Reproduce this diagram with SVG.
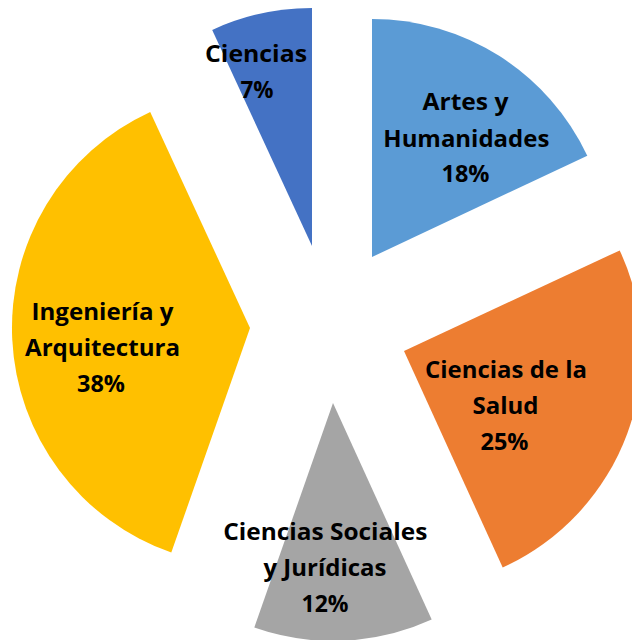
<svg xmlns="http://www.w3.org/2000/svg" width="632" height="640" viewBox="0 0 632 640">
<style>
  .lbl { font-family: "Open Sans", "Liberation Sans", sans-serif; font-weight: 700; font-size: 23px; fill: #000; text-anchor: middle; }
</style>
<rect width="632" height="640" fill="#ffffff"/>
<g id="artes">
  <path d="M372,257 L372,19 A238,238 0 0 1 587.3,155.7 Z" fill="#5B9BD5"/>
  <text class="lbl" x="465.5" y="110" textLength="86" lengthAdjust="spacingAndGlyphs">Artes y</text>
  <text class="lbl" x="466.3" y="146.5" textLength="166" lengthAdjust="spacingAndGlyphs">Humanidades</text>
  <text class="lbl" x="465.5" y="182" textLength="48" lengthAdjust="spacingAndGlyphs">18%</text>
</g>
<g id="salud">
  <path d="M404,351 L619.7,250.4 A238,238 0 0 1 502.7,567.6 Z" fill="#ED7D31"/>
  <text class="lbl" x="506" y="377.5" textLength="162" lengthAdjust="spacingAndGlyphs">Ciencias de la</text>
  <text class="lbl" x="505.5" y="414" textLength="66" lengthAdjust="spacingAndGlyphs">Salud</text>
  <text class="lbl" x="504.5" y="450" textLength="48" lengthAdjust="spacingAndGlyphs">25%</text>
</g>
<g id="sociales">
  <path d="M333,403 L431.7,619.6 A238,238 0 0 1 254.3,627.6 Z" fill="#A5A5A5"/>
  <text class="lbl" x="325.3" y="540" textLength="204" lengthAdjust="spacingAndGlyphs">Ciencias Sociales</text>
  <text class="lbl" x="325" y="575.5" textLength="123" lengthAdjust="spacingAndGlyphs">y Jurídicas</text>
  <text class="lbl" x="325" y="611.5" textLength="47" lengthAdjust="spacingAndGlyphs">12%</text>
</g>
<g id="ingenieria">
  <path d="M250,328 L171.3,552.6 A238,238 0 0 1 150.2,111.9 Z" fill="#FFC000"/>
  <text class="lbl" x="102.5" y="320" textLength="142" lengthAdjust="spacingAndGlyphs">Ingeniería y</text>
  <text class="lbl" x="102.5" y="355.5" textLength="155" lengthAdjust="spacingAndGlyphs">Arquitectura</text>
  <text class="lbl" x="101" y="391.5" textLength="48" lengthAdjust="spacingAndGlyphs">38%</text>
</g>
<g id="ciencias">
  <path d="M312,246 L212.2,29.9 A238,238 0 0 1 312,8 Z" fill="#4472C4"/>
  <text class="lbl" x="256" y="61.5" textLength="102" lengthAdjust="spacingAndGlyphs">Ciencias</text>
  <text class="lbl" x="257" y="97.5" textLength="33" lengthAdjust="spacingAndGlyphs">7%</text>
</g>
</svg>
